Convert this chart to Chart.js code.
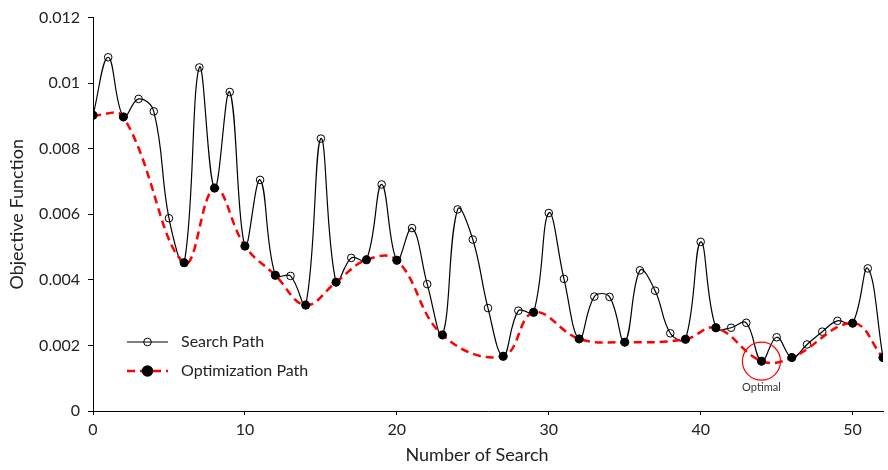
<!DOCTYPE html>
<html>
<head>
<meta charset="utf-8">
<script src="https://cdn.jsdelivr.net/npm/chart.js@4.4.0/dist/chart.umd.min.js"></script>
<style>
  html, body { margin: 0; padding: 0; background: #fff; }
  #wrap { width: 888px; height: 470px; }
</style>
</head>
<body>
<div id="wrap"><canvas id="searchChart" width="888" height="470"></canvas></div>
<script>
    // objective value at every step of the search (x = 0..52)
    const searchPath = [
      0.00902, 0.01079, 0.00897, 0.00952, 0.00914, 0.00588, 0.00452, 0.01048, 0.0068, 0.00973,
      0.00503, 0.00705, 0.00414, 0.00412, 0.00323, 0.00831, 0.00393, 0.00467, 0.00461, 0.00691,
      0.0046, 0.00558, 0.00387, 0.00232, 0.00615, 0.00523, 0.00314, 0.00167, 0.00306, 0.00301,
      0.00604, 0.00403, 0.0022, 0.00349, 0.00348, 0.0021, 0.00429, 0.00367, 0.00237, 0.00219,
      0.00516, 0.00254, 0.00254, 0.00269, 0.00152, 0.00225, 0.00163, 0.00203, 0.00242, 0.00275,
      0.00268, 0.00435, 0.00163
    ];

    // steps that make up the optimization path
    const optimizationSteps = [0, 2, 6, 8, 10, 12, 14, 16, 18, 20, 23, 27, 29, 32, 35, 39, 41, 44, 46, 50, 52];
    const optimalStep = 44;

    const xTicks = [0, 10, 20, 30, 40, 50];
    const yTicks = [0, 0.002, 0.004, 0.006, 0.008, 0.01, 0.012];

    const searchPoints = searchPath.map((v, i) => ({ x: i, y: v }));
    const optimizationPoints = optimizationSteps.map(i => ({ x: i, y: searchPath[i] }));

    const fontFamily = "Lato, 'Open Sans', sans-serif";

    // legend with line + marker, placed inside the plot like the original
    const pathLegend = {
      id: 'pathLegend',
      afterDatasetsDraw(chart, args, opts) {
        const ctx = chart.ctx;
        chart.data.datasets.forEach((ds, i) => {
          const y = opts.top + i * opts.rowGap;
          const mid = opts.left + opts.lineLen / 2;
          ctx.save();
          ctx.strokeStyle = ds.borderColor;
          ctx.lineWidth = ds.borderWidth;
          ctx.setLineDash(ds.borderDash || []);
          ctx.beginPath();
          ctx.moveTo(opts.left, y);
          ctx.lineTo(opts.left + opts.lineLen, y);
          ctx.stroke();
          ctx.setLineDash([]);
          ctx.beginPath();
          ctx.arc(mid, y, ds.pointRadius, 0, Math.PI * 2);
          ctx.fillStyle = ds.pointBackgroundColor;
          ctx.fill();
          ctx.lineWidth = ds.pointBorderWidth;
          ctx.strokeStyle = ds.pointBorderColor;
          ctx.stroke();
          ctx.fillStyle = '#222';
          ctx.font = `16px ${fontFamily}`;
          ctx.textBaseline = 'middle';
          ctx.fillText(ds.label, opts.left + opts.lineLen + 13, y);
          ctx.restore();
        });
      }
    };

    // red ring and label around the best point
    const optimalMark = {
      id: 'optimalMark',
      afterDatasetsDraw(chart) {
        const { ctx, scales } = chart;
        const px = scales.x.getPixelForValue(optimalStep);
        const py = scales.y.getPixelForValue(searchPath[optimalStep]);
        ctx.save();
        ctx.strokeStyle = '#ff0000';
        ctx.lineWidth = 1.2;
        ctx.beginPath();
        ctx.arc(px, py, 19, 0, Math.PI * 2);
        ctx.stroke();
        ctx.fillStyle = '#333';
        ctx.font = `11px ${fontFamily}`;
        ctx.textAlign = 'center';
        ctx.textBaseline = 'middle';
        ctx.fillText('Optimal', px, py + 26);
        ctx.restore();
      }
    };

    // x axis title, sitting a bit left of the plot centre as in the original
    const xTitle = {
      id: 'xTitle',
      afterDraw(chart, args, opts) {
        const { ctx, chartArea } = chart;
        ctx.save();
        ctx.fillStyle = '#222';
        ctx.font = `18px ${fontFamily}`;
        ctx.textAlign = 'center';
        ctx.textBaseline = 'middle';
        ctx.fillText(opts.text, (chartArea.left + chartArea.right) / 2 + opts.shift, opts.y);
        ctx.restore();
      }
    };

    const ctx = document.getElementById('searchChart').getContext('2d');
    const chart = new Chart(ctx, {
      type: 'line',
      data: {
        datasets: [{
          label: 'Search Path',
          data: searchPoints,
          borderColor: '#000',
          borderWidth: 1.2,
          tension: 0.4,
          pointRadius: 3.8,
          pointBorderWidth: 1,
          pointBorderColor: '#000',
          pointBackgroundColor: 'rgba(255,255,255,0)',
          order: 2
        }, {
          label: 'Optimization Path',
          data: optimizationPoints,
          borderColor: '#ff0000',
          borderWidth: 2.5,
          borderDash: [8, 5],
          tension: 0.4,
          pointRadius: 4.5,
          pointBorderWidth: 0,
          pointBorderColor: '#000',
          pointBackgroundColor: '#000',
          order: 1
        }]
      },
      options: {
        responsive: false,
        animation: false,
        layout: { padding: { top: 14, right: 1, left: 0, bottom: 0 } },
        plugins: {
          legend: { display: false },
          tooltip: { enabled: false },
          pathLegend: { left: 127, top: 342, rowGap: 29, lineLen: 41 },
          xTitle: { text: 'Number of Search', shift: -11, y: 455 }
        },
        scales: {
          x: {
            type: 'linear',
            min: 0,
            max: 52,
            afterFit: s => { s.height = 59; },
            afterBuildTicks: s => { s.ticks = xTicks.map(v => ({ value: v })); },
            ticks: { font: { family: fontFamily, size: 16 }, color: '#222', padding: 5, includeBounds: false },
            grid: { drawOnChartArea: false, drawTicks: true, tickLength: 4, color: '#000' },
            border: { display: true, color: '#000', width: 1 },
            title: { display: false }
          },
          y: {
            min: 0,
            max: 0.012,
            afterFit: s => { s.width = 93; },
            afterBuildTicks: s => { s.ticks = yTicks.map(v => ({ value: v })); },
            ticks: {
              font: { family: fontFamily, size: 16 },
              color: '#222',
              padding: 8,
              callback: v => String(+v.toFixed(3))
            },
            grid: { drawOnChartArea: false, drawTicks: true, tickLength: 5, color: '#000' },
            border: { display: true, color: '#000', width: 1 },
            title: {
              display: true,
              text: 'Objective Function',
              font: { family: fontFamily, size: 18 },
              color: '#222',
              padding: { top: 6, bottom: 4 }
            }
          }
        }
      },
      plugins: [pathLegend, optimalMark, xTitle]
    });
</script>
</body>
</html>
